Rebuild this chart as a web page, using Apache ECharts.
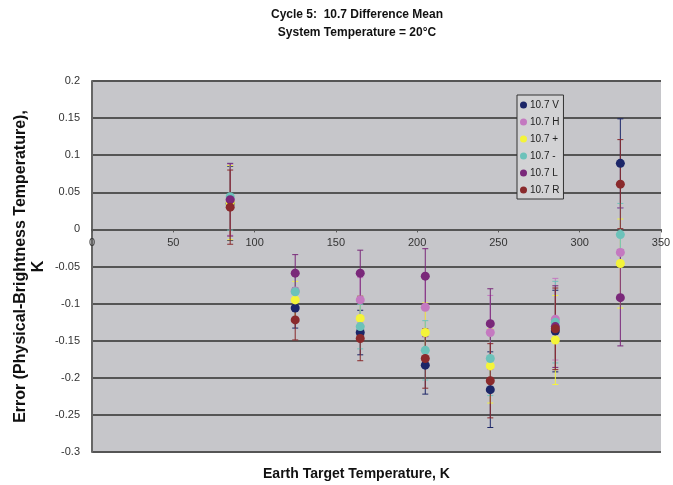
<!DOCTYPE html>
<html>
<head>
<meta charset="utf-8">
<script src="https://cdn.jsdelivr.net/npm/echarts@6/dist/echarts.min.js"></script>
<style>html,body{margin:0;padding:0;background:#fff}#c{width:673px;height:485px}</style>
</head>
<body>
<div id="c"></div>
<script>
const xValues = [85, 125, 165, 205, 245, 285, 325];
const seriesNames = ['10.7 V', '10.7 H', '10.7 +', '10.7 -', '10.7 L', '10.7 R'];
const seriesColors = ['#1c2668', '#c479c0', '#f4f43a', '#6cc2ba', '#7a287a', '#8a2a2c'];
const valV = [0.035, -0.106, -0.139, -0.183, -0.216, -0.137, 0.089];
const valH = [0.040, -0.083, -0.095, -0.105, -0.139, -0.121, -0.031];
const valPlus = [0.036, -0.095, -0.120, -0.139, -0.184, -0.149, -0.046];
const valMinus = [0.044, -0.084, -0.131, -0.163, -0.174, -0.125, -0.007];
const valL = [0.040, -0.059, -0.059, -0.063, -0.127, -0.131, -0.092];
const valR = [0.030, -0.122, -0.147, -0.174, -0.204, -0.134, 0.061];
const errV = [0.050, 0.027, 0.030, 0.039, 0.051, 0.055, 0.060];
const errH = [0.048, 0.025, 0.030, 0.040, 0.050, 0.055, 0.060];
const errPlus = [0.050, 0.025, 0.030, 0.040, 0.050, 0.060, 0.060];
const errMinus = [0.045, 0.025, 0.030, 0.040, 0.050, 0.055, 0.042];
const errL = [0.049, 0.025, 0.031, 0.037, 0.047, 0.055, 0.065];
const errR = [0.050, 0.027, 0.030, 0.040, 0.050, 0.055, 0.060];
const yTickLabels = ['0.2', '0.15', '0.1', '0.05', '0', '-0.05', '-0.1', '-0.15', '-0.2', '-0.25', '-0.3'];

const allVals = [valV, valH, valPlus, valMinus, valL, valR];
const allErrs = [errV, errH, errPlus, errMinus, errL, errR];

const W = 673, H = 485;
const gridTop = 81, gridBottom = 33, gridLeft = 92, gridRight = 12;
const yMin = -0.3, yMax = 0.2;
const plotH = H - gridTop - gridBottom;
const zeroFromBottom = plotH * (0 - yMin) / (yMax - yMin);

const series = [];
allVals.forEach((vals, i) => {
  series.push({
    type: 'custom',
    name: seriesNames[i] + ' err',
    silent: true,
    z: 2,
    data: xValues.map((x, k) => [x, vals[k], allErrs[i][k]]),
    renderItem: function (params, api) {
      const x = api.value(0), y = api.value(1), e = api.value(2);
      const hi = api.coord([x, y + e]);
      const lo = api.coord([x, y - e]);
      const w = 3;
      const st = { stroke: seriesColors[i], lineWidth: 1 };
      return {
        type: 'group',
        children: [
          { type: 'line', shape: { x1: hi[0], y1: hi[1], x2: lo[0], y2: lo[1] }, style: st },
          { type: 'line', shape: { x1: hi[0] - w, y1: hi[1], x2: hi[0] + w, y2: hi[1] }, style: st },
          { type: 'line', shape: { x1: lo[0] - w, y1: lo[1], x2: lo[0] + w, y2: lo[1] }, style: st }
        ]
      };
    }
  });
});
allVals.forEach((vals, i) => {
  series.push({
    type: 'scatter',
    name: seriesNames[i],
    z: 3,
    symbol: 'circle',
    symbolSize: 9,
    itemStyle: { color: seriesColors[i], opacity: 1 },
    data: xValues.map((x, k) => [x, vals[k]])
  });
});

const FF = 'Liberation Sans, Arial, sans-serif';
const chart = echarts.init(document.getElementById('c'), null, { renderer: 'canvas' });
chart.setOption({
  animation: false,
  backgroundColor: '#ffffff',
  textStyle: { fontFamily: FF },
  title: {
    text: 'Cycle 5:  10.7 Difference Mean\nSystem Temperature = 20°C',
    left: 352,
    textAlign: 'center',
    top: 1,
    textStyle: { fontSize: 12, fontWeight: 'bold', color: '#111', lineHeight: 18, fontFamily: FF }
  },
  legend: {
    orient: 'vertical',
    left: 517,
    top: 95,
    padding: [5, 4, 4, 3],
    itemGap: 7,
    itemWidth: 7,
    itemHeight: 7,
    icon: 'circle',
    backgroundColor: '#d2d2d4',
    borderColor: '#333',
    borderWidth: 1,
    borderRadius: 0,
    data: seriesNames,
    textStyle: { fontSize: 10, color: '#222', padding: [0, 0, 0, -2], fontFamily: FF }
  },
  grid: {
    left: gridLeft, right: gridRight, top: gridTop, bottom: gridBottom,
    outerBoundsMode: 'none', containLabel: false,
    show: true, backgroundColor: '#c6c6ca', borderColor: '#c6c6ca', borderWidth: 0
  },
  xAxis: {
    type: 'value',
    min: 0, max: 350, interval: 50,
    position: 'bottom',
    offset: -zeroFromBottom,
    name: 'Earth Target Temperature, K',
    nameLocation: 'middle',
    nameGap: 237,
    nameMoveOverlap: false,
    nameTextStyle: { fontSize: 14, fontWeight: 'bold', color: '#111', verticalAlign: 'top', lineHeight: 16, padding: [0, 40, 0, 0] },
    axisLine: { onZero: false, lineStyle: { color: '#555', width: 2 } },
    axisTick: { show: true, length: 3, lineStyle: { color: '#555' } },
    axisLabel: { color: '#333', fontSize: 11, margin: 8 },
    splitLine: { show: false }
  },
  yAxis: {
    type: 'value',
    min: yMin, max: yMax, interval: 0.05,
    name: 'Error (Physical-Brightness Temperature),\nK',
    nameLocation: 'middle',
    nameGap: 44,
    nameMoveOverlap: false,
    nameTextStyle: { fontSize: 16, fontWeight: 'bold', color: '#111', lineHeight: 18 },
    axisLine: { show: true, lineStyle: { color: '#666', width: 2 } },
    axisTick: { show: false },
    axisLabel: {
      color: '#333', fontSize: 11, margin: 12,
      formatter: function (v) {
        const idx = Math.round((yMax - v) / 0.05);
        return yTickLabels[idx] !== undefined ? yTickLabels[idx] : '';
      }
    },
    splitLine: { show: true, lineStyle: { color: '#555', width: 2 } }
  },
  series: series
});
</script>
</body>
</html>
